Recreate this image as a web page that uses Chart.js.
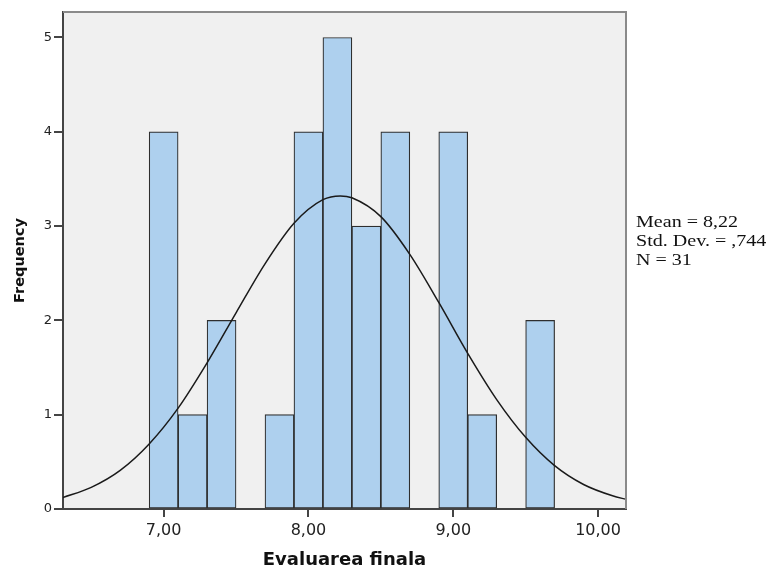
<!DOCTYPE html>
<html>
<head>
<meta charset="utf-8">
<script src="https://cdn.jsdelivr.net/npm/chart.js@4.4.1/dist/chart.umd.min.js"></script>
<style>
  html, body { margin: 0; padding: 0; background: #fff; }
  .chart-container { position: relative; width: 776px; height: 568px; }
</style>
</head>
<body>
<div class="chart-container"><canvas id="myChart"></canvas></div>
<script>
// histogram bins (centre of each 0,2 wide bin) and counts
var binCenters = [7.0, 7.2, 7.4, 7.6, 7.8, 8.0, 8.2, 8.4, 8.6, 8.8, 9.0, 9.2, 9.4, 9.6];
var binCounts  = [4, 1, 2, 0, 1, 4, 5, 3, 4, 0, 4, 1, 0, 2];

// normal curve
var curveX = [6.3, 6.5, 6.7, 6.9, 7.1, 7.3, 7.5, 7.7, 7.9, 8.1, 8.22, 8.3, 8.5, 8.7, 8.9, 9.1, 9.3, 9.5, 9.7, 9.9, 10.1, 10.2];
var curveY = [0.12, 0.23, 0.41, 0.69, 1.07, 1.55, 2.08, 2.60, 3.03, 3.28, 3.32, 3.30, 3.10, 2.70, 2.19, 1.65, 1.16, 0.76, 0.46, 0.26, 0.14, 0.10];

var xTicks = [7, 8, 9, 10];
var yTicks = [0, 1, 2, 3, 4, 5];
var statLines = ['Mean = 8,22', 'Std. Dev. = ,744', 'N = 31'];

var ctx = document.getElementById('myChart').getContext('2d');

var plotFrame = {
  id: 'plotFrame',
  beforeDraw: function (chart) {
    var a = chart.chartArea, c = chart.ctx;
    c.save();
    c.fillStyle = '#f0f0f0';
    c.fillRect(a.left, a.top, a.right - a.left, a.bottom - a.top);
    c.restore();
  },
  afterDraw: function (chart) {
    var a = chart.chartArea, c = chart.ctx;
    c.save();
    c.strokeStyle = '#8a8a8a';
    c.lineWidth = 2;
    c.beginPath();
    c.moveTo(a.left, a.top);
    c.lineTo(a.right, a.top);
    c.lineTo(a.right, a.bottom);
    c.stroke();
    // stats box text on the right
    c.fillStyle = '#111';
    c.font = '17px "Liberation Serif", "Times New Roman", serif';
    c.textBaseline = 'alphabetic';
    for (var i = 0; i < statLines.length; i++) {
      c.save();
      c.translate(a.right + 10, 226.5 + i * 19);
      c.scale(1.18, 1);
      c.fillText(statLines[i], 0, 0);
      c.restore();
    }
    c.restore();
  }
};

var myChart = new Chart(ctx, {
  type: 'bar',
  data: {
    datasets: [{
      type: 'line',
      data: curveX.map(function (x, i) { return { x: x, y: curveY[i] }; }),
      borderColor: '#1a1a1a',
      borderWidth: 1.5,
      pointRadius: 0,
      cubicInterpolationMode: 'monotone',
      fill: false,
      order: 0
    }, {
      type: 'bar',
      data: binCenters.map(function (x, i) { return { x: x, y: binCounts[i] }; }),
      backgroundColor: 'rgb(174, 208, 238)',
      borderColor: '#2e2e2e',
      borderWidth: 1.2,
      borderSkipped: false,
      barPercentage: 1,
      categoryPercentage: 1,
      order: 1
    }]
  },
  options: {
    responsive: true,
    maintainAspectRatio: false,
    animation: false,
    layout: { padding: { left: 0, right: 150, top: 12, bottom: 0 } },
    plugins: { legend: { display: false }, tooltip: { enabled: false } },
    scales: {
      x: {
        type: 'linear',
        offset: false,
        min: 6.305,
        max: 10.193,
        z: 1,
        afterBuildTicks: function (scale) {
          scale.ticks = xTicks.map(function (v) { return { value: v }; });
        },
        afterFit: function (scale) { scale.height = 59; },
        ticks: {
          color: '#222',
          padding: 4,
          maxRotation: 0,
          font: { family: '"DejaVu Sans", sans-serif', size: 16 },
          callback: function (v) { return v.toFixed(2).replace('.', ','); }
        },
        grid: { offset: false, drawOnChartArea: false, drawTicks: true, tickLength: 8, color: '#444', lineWidth: 2 },
        border: { display: true, color: '#444', width: 2 },
        title: {
          display: true,
          text: 'Evaluarea finala',
          color: '#111',
          padding: { top: 0, bottom: -1 },
          font: { family: '"DejaVu Sans", sans-serif', size: 18, weight: 'bold', lineHeight: 1 }
        }
      },
      y: {
        min: 0,
        max: 5.27,
        z: 1,
        afterBuildTicks: function (scale) {
          scale.ticks = yTicks.map(function (v) { return { value: v }; });
        },
        afterFit: function (scale) { scale.width = 63; },
        ticks: {
          color: '#222',
          padding: 2,
          font: { family: '"DejaVu Sans", sans-serif', size: 13 }
        },
        grid: { drawOnChartArea: false, drawTicks: true, tickLength: 9, color: '#444', lineWidth: 2 },
        border: { display: true, color: '#444', width: 2 },
        title: {
          display: true,
          text: 'Frequency',
          color: '#111',
          padding: { top: 13, bottom: 0 },
          font: { family: '"DejaVu Sans", sans-serif', size: 14.5, weight: 'bold', lineHeight: 1 }
        }
      }
    }
  },
  plugins: [plotFrame]
});
</script>
</body>
</html>
